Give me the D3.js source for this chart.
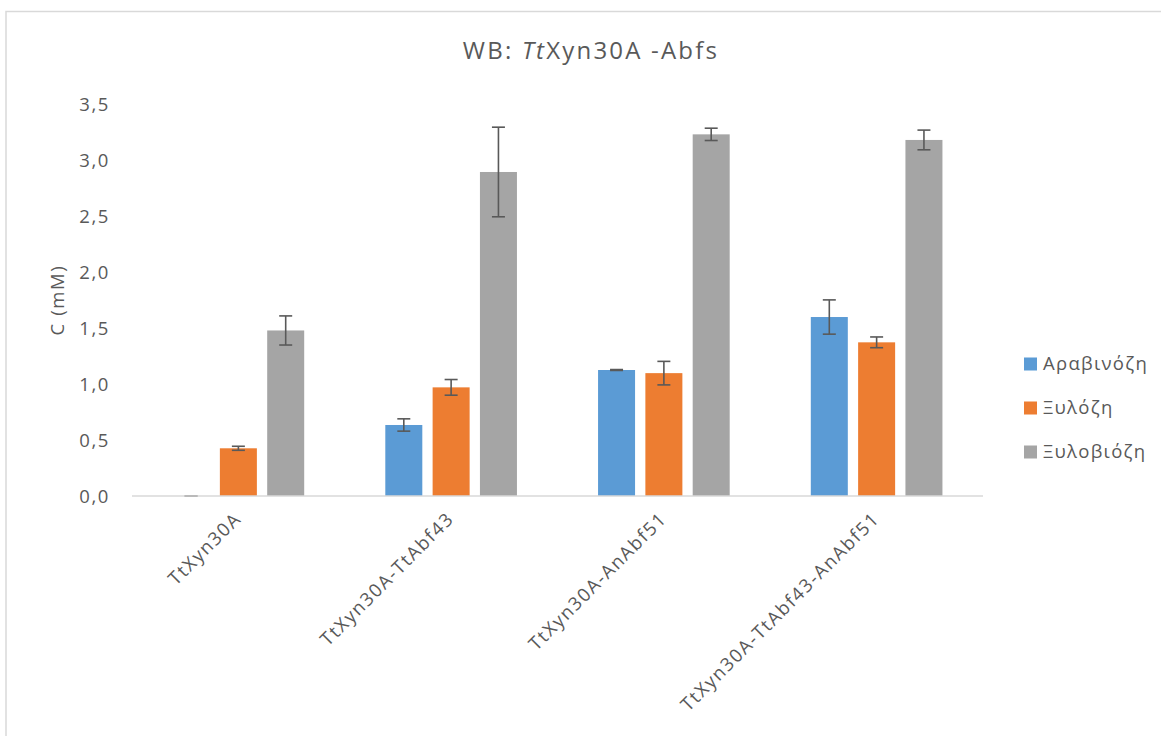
<!DOCTYPE html>
<html>
<head>
<meta charset="utf-8">
<script src="https://cdn.jsdelivr.net/npm/d3@7"></script>
<style>
  html, body { margin: 0; padding: 0; background: #fff; }
  svg { display: block; font-family: "Open Sans", "Noto Sans", sans-serif; }
</style>
</head>
<body>
<svg id="chart" width="1161" height="736"></svg>
<script>
const categories = ["TtXyn30A", "TtXyn30A-TtAbf43", "TtXyn30A-AnAbf51", "TtXyn30A-TtAbf43-AnAbf51"];
const seriesNames = ["Αραβινόζη", "Ξυλόζη", "Ξυλοβιόζη"];
const seriesColors = ["#5b9bd5", "#ed7d31", "#a5a5a5"];
const arabinose = [0.0, 0.634, 1.125, 1.598];
const arabinoseErr = [0.0, 0.055, 0.004, 0.153];
const xylose = [0.426, 0.97, 1.097, 1.372];
const xyloseErr = [0.018, 0.07, 0.105, 0.048];
const xylobiose = [1.478, 2.893, 3.229, 3.179];
const xylobioseErr = [0.13, 0.40, 0.055, 0.088];
const yTicks = [0, 0.5, 1.0, 1.5, 2.0, 2.5, 3.0, 3.5];

const values = [arabinose, xylose, xylobiose];
const errors = [arabinoseErr, xyloseErr, xylobioseErr];

const svg = d3.select("#chart");
const textColor = "#595959";
const fs = 18.5, ls = 1.6;

// outer chart border
svg.append("rect")
  .attr("x", 6).attr("y", 11.5).attr("width", 1170).attr("height", 740)
  .attr("fill", "none").attr("stroke", "#d9d9d9").attr("stroke-width", 1.5);

const plot = { left: 132, right: 983, top: 104, bottom: 496 };

const x0 = d3.scaleBand().domain(categories).range([plot.left, plot.right]).paddingInner(0).paddingOuter(0);
const x1 = d3.scaleBand().domain(seriesNames).range([0, x0.bandwidth()]).paddingInner(0.218).paddingOuter(0.857);
const y = d3.scaleLinear().domain([0, 3.5]).range([plot.bottom, plot.top]);

// title
const title = svg.append("text")
  .attr("x", 591).attr("y", 59)
  .attr("text-anchor", "middle")
  .attr("font-size", 24)
  .attr("letter-spacing", 2.2)
  .attr("fill", textColor);
title.append("tspan").text("WB: ");
title.append("tspan").attr("font-style", "italic").text("Tt");
title.append("tspan").text("Xyn30A -Abfs");

// y axis
const yAxis = d3.axisLeft(y).tickValues(yTicks).tickSize(0).tickPadding(0)
  .tickFormat(d => d3.format(".1f")(d).replace(".", ","));
const yg = svg.append("g").attr("transform", `translate(${plot.left - 22},0)`).call(yAxis);
yg.select(".domain").remove();
yg.selectAll("text").attr("font-size", fs).attr("letter-spacing", ls).attr("fill", textColor).attr("dy", "0.35em")
  .attr("font-family", "'Open Sans', sans-serif");

// y axis title
svg.append("text")
  .attr("transform", `translate(64,300) rotate(-90)`)
  .attr("text-anchor", "middle")
  .attr("font-size", fs)
  .attr("letter-spacing", ls)
  .attr("fill", textColor)
  .text("C (mM)");

// bars
const groups = svg.append("g").selectAll("g")
  .data(categories)
  .join("g")
  .attr("transform", d => `translate(${x0(d)},0)`);

seriesNames.forEach((s, si) => {
  groups.append("rect")
    .attr("x", x1(s))
    .attr("width", x1.bandwidth())
    .attr("y", (d, ci) => y(values[si][ci]))
    .attr("height", (d, ci) => y(0) - y(values[si][ci]))
    .attr("fill", seriesColors[si]);
});

// x axis line
svg.append("line")
  .attr("x1", plot.left).attr("x2", plot.right)
  .attr("y1", y(0)).attr("y2", y(0))
  .attr("stroke", "#d9d9d9").attr("stroke-width", 1.5);

// error bars
const capW = 6.5;
seriesNames.forEach((s, si) => {
  const eg = groups.append("g");
  const cx = x1(s) + x1.bandwidth() / 2;
  eg.append("line")
    .attr("x1", cx).attr("x2", cx)
    .attr("y1", (d, ci) => y(values[si][ci] + errors[si][ci]))
    .attr("y2", (d, ci) => y(Math.max(0, values[si][ci] - errors[si][ci])))
    .attr("stroke", "#595959").attr("stroke-width", 1.6);
  eg.append("line")
    .attr("x1", cx - capW).attr("x2", cx + capW)
    .attr("y1", (d, ci) => y(values[si][ci] + errors[si][ci]))
    .attr("y2", (d, ci) => y(values[si][ci] + errors[si][ci]))
    .attr("stroke", "#595959").attr("stroke-width", 1.6);
  eg.append("line")
    .attr("x1", cx - capW).attr("x2", cx + capW)
    .attr("y1", (d, ci) => y(Math.max(0, values[si][ci] - errors[si][ci])))
    .attr("y2", (d, ci) => y(Math.max(0, values[si][ci] - errors[si][ci])))
    .attr("stroke", "#595959").attr("stroke-width", 1.6);
});

// x labels
const xAxis = d3.axisBottom(x0).tickSize(0).tickPadding(0);
const xg = svg.append("g").attr("transform", `translate(0,${plot.bottom})`).call(xAxis);
xg.select(".domain").remove();
xg.selectAll("text")
  .attr("font-size", fs)
  .attr("letter-spacing", ls)
  .attr("fill", textColor)
  .attr("font-family", "'Open Sans', sans-serif")
  .attr("text-anchor", "end")
  .attr("dy", null)
  .attr("y", 0)
  .attr("transform", "translate(4,24) rotate(-45)");

// legend
const legend = svg.append("g");
seriesNames.forEach((s, i) => {
  const ly = 364 + i * 44;
  legend.append("rect")
    .attr("x", 1024).attr("y", ly - 6.5).attr("width", 13).attr("height", 13)
    .attr("fill", seriesColors[i]);
  legend.append("text")
    .attr("x", 1043).attr("y", ly).attr("dy", "0.35em")
    .attr("font-size", fs).attr("letter-spacing", 1.3).attr("fill", textColor)
    .text(s);
});
</script>
</body>
</html>
